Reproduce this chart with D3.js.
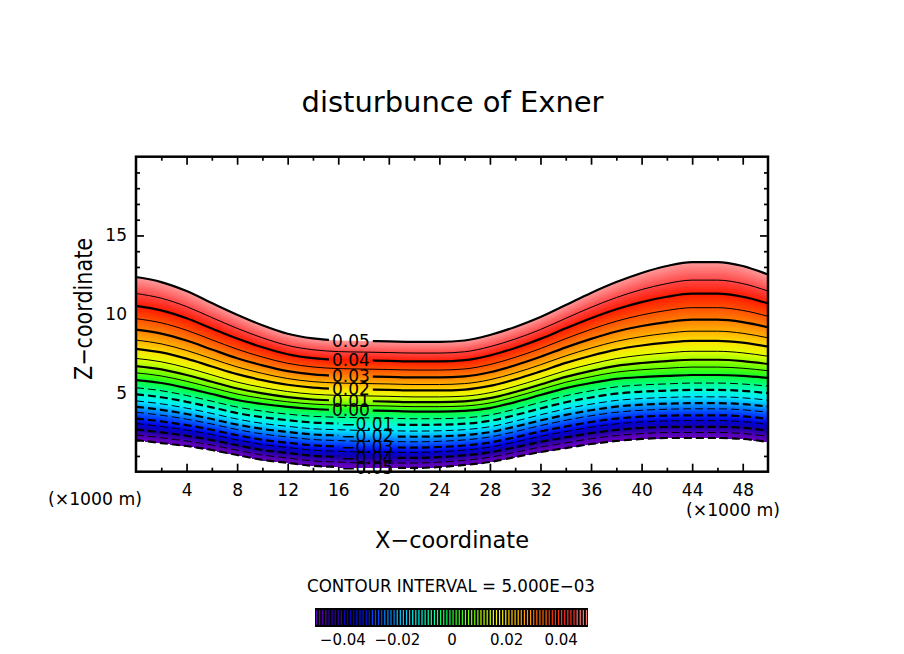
<!DOCTYPE html>
<html>
<head>
<meta charset="utf-8">
<script src="https://cdn.jsdelivr.net/npm/d3@7"></script>
<style>
  body { margin: 0; background: #fff; }
  text { font-family: "DejaVu Sans", sans-serif; fill: #000; }
</style>
</head>
<body>
<svg id="chart" width="904" height="654"></svg>
<script>
// x positions of the sampled columns (x1000 m)
const xKm = [0, 2, 4, 6, 8, 10, 12, 14, 16, 18, 20, 22, 24, 26, 28, 30, 32, 34, 36, 38, 40, 42, 44, 46, 48, 50];
// height (x1000 m) of the +0.05 contour
const zTop = [12.36, 12.04, 11.47, 10.71, 9.97, 9.30, 8.76, 8.46, 8.33, 8.30, 8.27, 8.24, 8.24,
              8.33, 8.68, 9.19, 9.82, 10.58, 11.35, 12.04, 12.62, 13.06, 13.31, 13.31, 13.06, 12.52];
// height of the 0.00 contour
const zZero = [5.82, 5.63, 5.31, 4.93, 4.55, 4.30, 4.11, 3.98, 3.92, 3.89, 3.86, 3.82, 3.82,
               3.86, 4.04, 4.42, 4.87, 5.31, 5.63, 5.89, 6.01, 6.08, 6.14, 6.14, 6.08, 5.95];
// height of the -0.05 contour
const zBottom = [2.01, 1.82, 1.63, 1.38, 1.06, 0.75, 0.56, 0.37, 0.30, 0.24, 0.24, 0.24, 0.30,
                 0.43, 0.62, 0.93, 1.25, 1.50, 1.76, 1.95, 2.08, 2.14, 2.14, 2.14, 2.08, 1.89];

const levels = [-0.05, -0.045, -0.04, -0.035, -0.03, -0.025, -0.02, -0.015, -0.01, -0.005, 0,
                0.005, 0.01, 0.015, 0.02, 0.025, 0.03, 0.035, 0.04, 0.045, 0.05];
// where each negative level sits between the -0.05 and 0.00 contours
const negFrac = [0, 0.087, 0.177, 0.275, 0.36, 0.463, 0.553, 0.653, 0.763, 0.872, 1];
// where each positive level sits between the 0.00 and +0.05 contours
const posFrac = [0, 0.07, 0.135, 0.21, 0.303, 0.388, 0.49, 0.596, 0.72, 0.84, 1];

const levelColors = ["#6c00c0", "#4a00b4", "#1800a8", "#0000d8", "#0028ff", "#0068ff", "#00a8ff",
  "#00e8ff", "#00ffd0", "#00ff88", "#10ff30", "#58ff00", "#a0ff00", "#e4ff00", "#ffe000",
  "#ffb000", "#ff8000", "#ff5000", "#ff1a00", "#ff4848", "#ff9c9c"];

const xMajor = [4, 8, 12, 16, 20, 24, 28, 32, 36, 40, 44, 48];
const xMinor = [2, 6, 10, 14, 18, 22, 26, 30, 34, 38, 42, 46];
const yMajor = [5, 10, 15];
const yMinor = [1, 2, 3, 4, 6, 7, 8, 9, 11, 12, 13, 14, 16, 17, 18, 19];
const cbTicks = [-0.04, -0.02, 0, 0.02, 0.04];

const svg = d3.select("#chart");
const x = d3.scaleLinear().domain([0, 50]).range([136, 768]);
const y = d3.scaleLinear().domain([0, 20]).range([471.7, 156.7]);
const color = d3.scaleLinear().domain(levels).range(levelColors);

// contour heights for every level
const levelZ = levels.map((v, k) => xKm.map((xv, j) => {
  if (k <= 10) return zBottom[j] + negFrac[k] * (zZero[j] - zBottom[j]);
  return zZero[j] + posFrac[k - 10] * (zTop[j] - zZero[j]);
}));

// ---- ticks (under the shading, like the original)
const gTicks = svg.append("g");
function ticks(axis, tr, fs) {
  const g = gTicks.append("g").attr("transform", tr).call(axis);
  g.attr("font-family", "DejaVu Sans").attr("font-size", fs || 17);
  g.select(".domain").remove();
  g.selectAll(".tick line").attr("stroke", "#000").attr("stroke-width", 1.7);
  g.selectAll(".tick text").attr("fill", "#000");
  return g;
}
ticks(d3.axisBottom(x).tickValues(xMajor).tickSize(-8).tickPadding(12), `translate(0,${y(0)})`);
ticks(d3.axisBottom(x).tickValues(xMinor).tickSize(-4).tickFormat(""), `translate(0,${y(0)})`);
ticks(d3.axisTop(x).tickValues(xMajor).tickSize(-8).tickFormat(""), `translate(0,${y(20)})`);
ticks(d3.axisTop(x).tickValues(xMinor).tickSize(-4).tickFormat(""), `translate(0,${y(20)})`);
ticks(d3.axisLeft(y).tickValues(yMajor).tickSize(-8).tickPadding(9), `translate(${x(0)},0)`);
ticks(d3.axisLeft(y).tickValues(yMinor).tickSize(-4).tickFormat(""), `translate(${x(0)},0)`);
ticks(d3.axisRight(y).tickValues(yMajor).tickSize(-8).tickFormat(""), `translate(${x(50)},0)`);
ticks(d3.axisRight(y).tickValues(yMinor).tickSize(-4).tickFormat(""), `translate(${x(50)},0)`);

// ---- smooth shading: thin bands painted from top down
const sub = 8;
const bands = [];
for (let k = levels.length - 2; k >= 0; k--) {
  for (let s = sub - 1; s >= 0; s--) {
    const tTop = (s + 1) / sub, tMid = (s + 0.5) / sub;
    bands.push({
      top: xKm.map((xv, j) => levelZ[k][j] + tTop * (levelZ[k + 1][j] - levelZ[k][j])),
      v: levels[k] + tMid * (levels[k + 1] - levels[k])
    });
  }
}
const area = d3.area()
  .x((d, j) => x(xKm[j]))
  .y0((d, j) => y(zBottom[j]))
  .y1(d => y(d))
  .curve(d3.curveMonotoneX);
svg.append("g").selectAll("path").data(bands).join("path")
  .attr("d", d => area(d.top))
  .attr("fill", d => color(d.v));

// ---- contour lines
const line = d3.line().x((d, j) => x(xKm[j])).y(d => y(d)).curve(d3.curveMonotoneX);
const defs = svg.append("defs");
const gLines = svg.append("g").attr("fill", "none").attr("stroke", "#000");
const gLabels = svg.append("g").attr("font-size", 17).attr("text-anchor", "middle");

levels.forEach((v, k) => {
  const major = k % 2 === 0;
  const p = gLines.append("path")
    .attr("d", line(levelZ[k]))
    .attr("stroke-width", major ? 2.2 : 1)
    .attr("stroke-dasharray", v < 0 ? "8,4" : null);
  if (!major) return;
  // label on each 0.01 line, with a gap cut in the line
  const lx = v < 0 ? 18.3 : 17.0;
  const lz = d3.scaleLinear().domain(xKm).range(levelZ[k])(lx);
  const lab = v === 0 ? "0.00" : (v < 0 ? "\u2212" : "") + d3.format(".2f")(Math.abs(v));
  const t = gLabels.append("text")
    .attr("x", x(lx)).attr("y", y(lz)).attr("dy", "0.36em")
    .text(lab);
  const b = t.node().getBBox();
  const m = defs.append("mask").attr("id", "m" + k).attr("maskUnits", "userSpaceOnUse")
    .attr("x", 0).attr("y", 0).attr("width", 904).attr("height", 654);
  m.append("rect").attr("width", 904).attr("height", 654).attr("fill", "#fff");
  m.append("rect").attr("x", b.x - 3).attr("y", b.y + 2).attr("width", b.width + 6)
    .attr("height", b.height - 4).attr("fill", "#000");
  p.attr("mask", `url(#m${k})`);
});

// ---- frame
svg.append("rect")
  .attr("x", x(0)).attr("y", y(20))
  .attr("width", x(50) - x(0)).attr("height", y(0) - y(20))
  .attr("fill", "none").attr("stroke", "#000").attr("stroke-width", 2.5);

// ---- titles
svg.append("text").attr("x", 452.5).attr("y", 111.5).attr("text-anchor", "middle")
  .attr("font-size", 28).attr("textLength", 302).attr("lengthAdjust", "spacingAndGlyphs")
  .text("disturbunce of Exner");
svg.append("text").attr("x", 452).attr("y", 548).attr("text-anchor", "middle")
  .attr("font-size", 23.5).attr("textLength", 154).attr("lengthAdjust", "spacingAndGlyphs")
  .text("X\u2212coordinate");
svg.append("text").attr("transform", "translate(92,309) rotate(-90)").attr("text-anchor", "middle")
  .attr("font-size", 24).attr("textLength", 142).attr("lengthAdjust", "spacingAndGlyphs")
  .text("Z\u2212coordinate");
svg.append("text").attr("x", 48).attr("y", 505).attr("font-size", 17)
  .attr("textLength", 94).attr("lengthAdjust", "spacingAndGlyphs")
  .text("(\u00d71000 m)");
svg.append("text").attr("x", 686).attr("y", 516).attr("font-size", 17)
  .attr("textLength", 94).attr("lengthAdjust", "spacingAndGlyphs")
  .text("(\u00d71000 m)");
svg.append("text").attr("x", 451).attr("y", 592).attr("text-anchor", "middle")
  .attr("font-size", 17).attr("textLength", 288).attr("lengthAdjust", "spacingAndGlyphs")
  .text("CONTOUR INTERVAL = 5.000E\u221203");

// ---- colour bar
const cb = d3.scaleLinear().domain([-0.05, 0.05]).range([315, 588]);
svg.append("rect").attr("x", cb(-0.05)).attr("y", 608)
  .attr("width", cb(0.05) - cb(-0.05)).attr("height", 19).attr("fill", "#000");
const nStripe = 88;
const stripes = d3.range(nStripe).map(i => -0.05 + (i + 0.5) * 0.1 / nStripe);
svg.append("g").selectAll("line").data(stripes).join("line")
  .attr("x1", d => cb(d)).attr("x2", d => cb(d))
  .attr("y1", 610).attr("y2", 625)
  .attr("stroke-width", 1.2)
  .attr("stroke", d => color(Math.floor(d / 0.005) * 0.005 + 0.0025));
const cbAxis = svg.append("g").attr("transform", "translate(0,627)")
  .call(d3.axisBottom(cb).tickValues(cbTicks).tickSize(0).tickPadding(7)
    .tickFormat(d => d === 0 ? "0" : d3.format(".2f")(d)));
cbAxis.attr("font-family", "DejaVu Sans").attr("font-size", 15);
cbAxis.select(".domain").remove();
cbAxis.selectAll("text").attr("fill", "#000");
</script>
</body>
</html>
